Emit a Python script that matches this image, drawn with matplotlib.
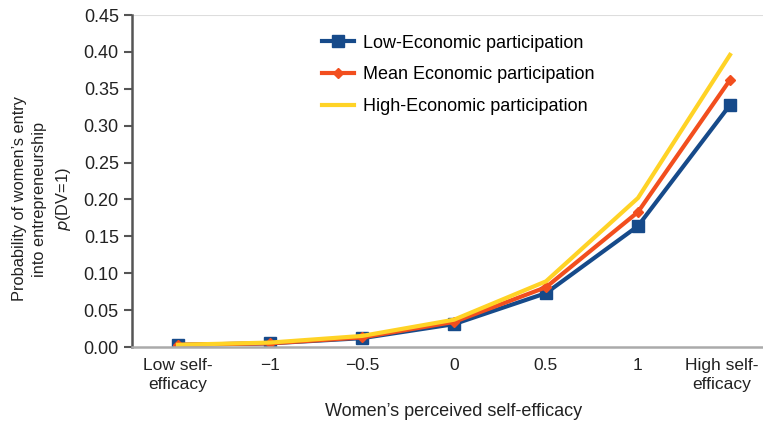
"""Predicted probability of women's entry into entrepreneurship by self-efficacy"""
import matplotlib
matplotlib.use("Agg")
import matplotlib.pyplot as plt
from matplotlib.transforms import ScaledTranslation

plt.rcParams['font.family'] = ['Liberation Sans', 'DejaVu Sans']

categories = ["Low self-\nefficacy", "\u22121", "\u22120.5", "0", "0.5", "1", "High self-\nefficacy"]
low_econ = [0.003, 0.005, 0.012, 0.031, 0.073, 0.164, 0.328]
mean_econ = [0.003, 0.005, 0.013, 0.034, 0.081, 0.183, 0.362]
high_econ = [0.003, 0.006, 0.015, 0.037, 0.089, 0.202, 0.396]
y_ticks = [0.0, 0.05, 0.10, 0.15, 0.20, 0.25, 0.30, 0.35, 0.40, 0.45]

fig = plt.figure(figsize=(7.63, 4.30), dpi=100)
ax = fig.add_axes([0.173, 0.193, 0.844, 0.772])

xs = range(len(categories))
ax.plot(xs, low_econ, color="#164a8a", lw=3, marker="s", ms=8,
        label="Low-Economic participation")
ax.plot(xs, mean_econ, color="#f24e1e", lw=3, marker="D", ms=5,
        label="Mean Economic participation")
ax.plot(xs, high_econ, color="#ffd326", lw=3,
        label="High-Economic participation")

ax.set_xlim(-0.5, 6.5)
ax.set_ylim(0, 0.45)
ax.set_yticks(y_ticks)
ax.set_yticklabels([f"{v:.2f}" for v in y_ticks])
ax.set_xticks(list(xs))
ax.set_xticklabels(categories)
ax.tick_params(axis="x", length=0, labelsize=12.5, pad=8, colors="#222222")
ax.tick_params(axis="y", length=6, width=1.5, color="#555555", labelsize=13,
               labelcolor="#222222")

for lab in ax.get_xticklabels():
    lab.set_linespacing(1.3)
# the last label sits a little to the left in the original
last = ax.get_xticklabels()[-1]
last.set_transform(last.get_transform() + ScaledTranslation(-0.08, 0, fig.dpi_scale_trans))

for side in ("top", "right"):
    ax.spines[side].set_visible(False)
ax.spines["left"].set_color("#555555")
ax.spines["left"].set_linewidth(1.8)
ax.spines["bottom"].set_color("#aaaaaa")
ax.spines["bottom"].set_linewidth(1.8)
ax.axhline(0.45, color="#dddddd", lw=1.5, zorder=0)

ax.set_xlabel("Women\u2019s perceived self-efficacy", fontsize=13, color="#222222",
              labelpad=8)
ax.set_ylabel("Probability of women\u2019s entry\ninto entrepreneurship\n$\\mathit{p}$(DV=1)",
              fontsize=11.8, color="#222222", linespacing=1.45)
ax.yaxis.set_label_coords(-0.092, 0.446)

leg = ax.legend(loc="upper left", bbox_to_anchor=(0.27, 0.99), frameon=False,
                fontsize=13, handlelength=1.75, labelspacing=0.81, handletextpad=0.5)

fig.savefig("out.png", dpi=100)
